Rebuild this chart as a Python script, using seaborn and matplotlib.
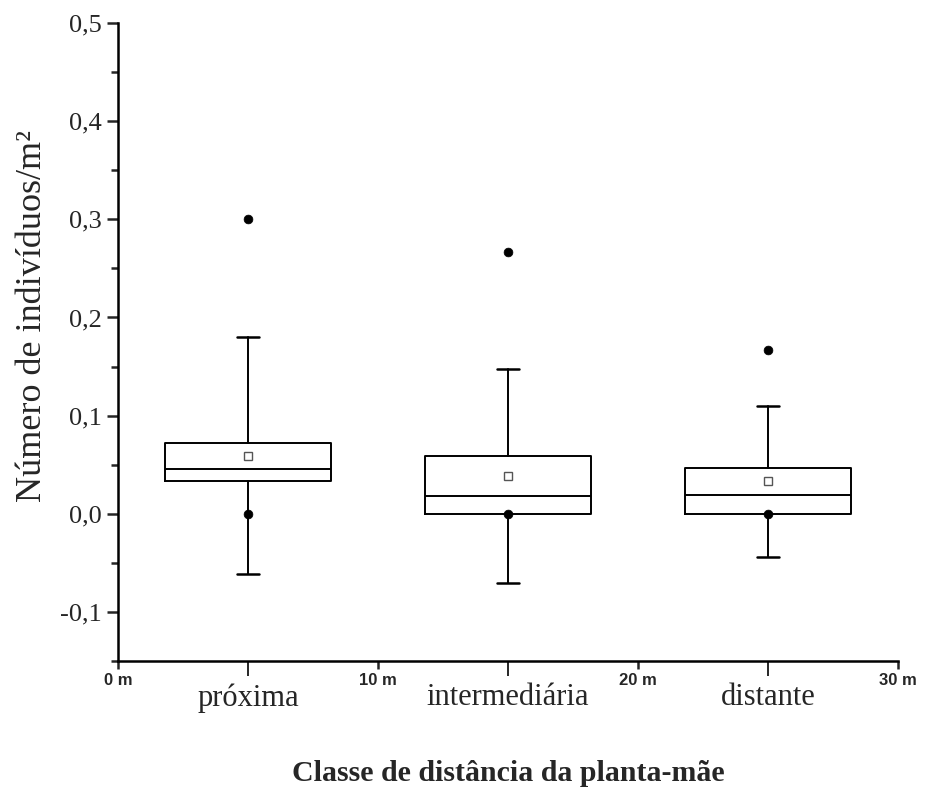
import numpy as np
import matplotlib
matplotlib.use("Agg")
import matplotlib.pyplot as plt
import seaborn as sns
import pandas as pd

# Data (individuals per m2, by distance class)
categories = ["próxima", "intermediária", "distante"]
class_edges = [0, 10, 20, 30]
class_mid = [5, 15, 25]
q1 = [0.033, 0.000, 0.000]
median = [0.046, 0.018, 0.019]
q3 = [0.072, 0.059, 0.047]
mean = [0.059, 0.038, 0.033]
whisker_low = [-0.061, -0.071, -0.044]
whisker_high = [0.180, 0.148, 0.110]
minimum = [0.0, 0.0, 0.0]
maximum = [0.300, 0.267, 0.167]

sns.set_theme(style="ticks")
plt.rcParams["font.family"] = ["Liberation Serif", "DejaVu Serif"]

fig = plt.figure(figsize=(9.25, 7.95), dpi=100)
ax = fig.add_axes([0.1276, 0.1686, 0.8432, 0.8024])

stats = []
for i, cat in enumerate(categories):
    stats.append({
        "label": cat,
        "q1": q1[i], "med": median[i], "q3": q3[i], "mean": mean[i],
        "whislo": whisker_low[i], "whishi": whisker_high[i], "fliers": [],
    })

line_kw = dict(color="black", linewidth=1.4)
ax.bxp(stats, positions=class_mid, widths=6.4, capwidths=0.85,
       showmeans=True, showfliers=False, manage_ticks=False,
       boxprops=line_kw, medianprops=line_kw, whiskerprops=line_kw,
       capprops=dict(color="black", linewidth=1.8),
       meanprops=dict(marker="s", markerfacecolor="white",
                      markeredgecolor="#555555", markersize=6,
                      markeredgewidth=1.0))

# min / max markers
pts = pd.DataFrame({
    "x": class_mid * 2,
    "y": minimum + maximum,
})
sns.scatterplot(data=pts, x="x", y="y", ax=ax, color="black", s=40,
                edgecolor="black", zorder=5, legend=False)

ax.set_xlim(0, 30)
ax.set_ylim(-0.15, 0.5)
sns.despine(ax=ax)
for side in ["left", "bottom"]:
    ax.spines[side].set_linewidth(1.8)
    ax.spines[side].set_color("black")

yt = [-0.1, 0.0, 0.1, 0.2, 0.3, 0.4, 0.5]
ax.set_yticks(yt)
ax.set_yticklabels([f"{v:.1f}".replace(".", ",") for v in yt], fontsize=19)
ax.set_yticks(np.arange(-0.15, 0.5, 0.1), minor=True)
ax.tick_params(axis="y", which="major", length=8, width=1.8, direction="out")
ax.tick_params(axis="y", which="minor", length=5, width=1.8, direction="out")

ax.set_xticks(class_edges)
ax.set_xticklabels([f"{v} m" for v in class_edges], fontsize=12,
                   fontweight="bold", family=["Liberation Sans", "DejaVu Sans"])
ax.set_xticks(class_mid, minor=True)
ax.set_xticklabels(categories, minor=True, fontsize=22)
ax.tick_params(axis="x", which="major", length=6, width=1.8, pad=3)
ax.tick_params(axis="x", which="minor", length=11, width=1.4, pad=5)

ax.set_ylabel("Número de indivíduos/m²", fontsize=26)
ax.yaxis.set_label_coords(-0.088, 0.54)
ax.set_xlabel("Classe de distância da planta-mãe", fontsize=21.5,
              fontweight="bold", labelpad=34)
ax.grid(False)

fig.savefig("out.png", dpi=100)
